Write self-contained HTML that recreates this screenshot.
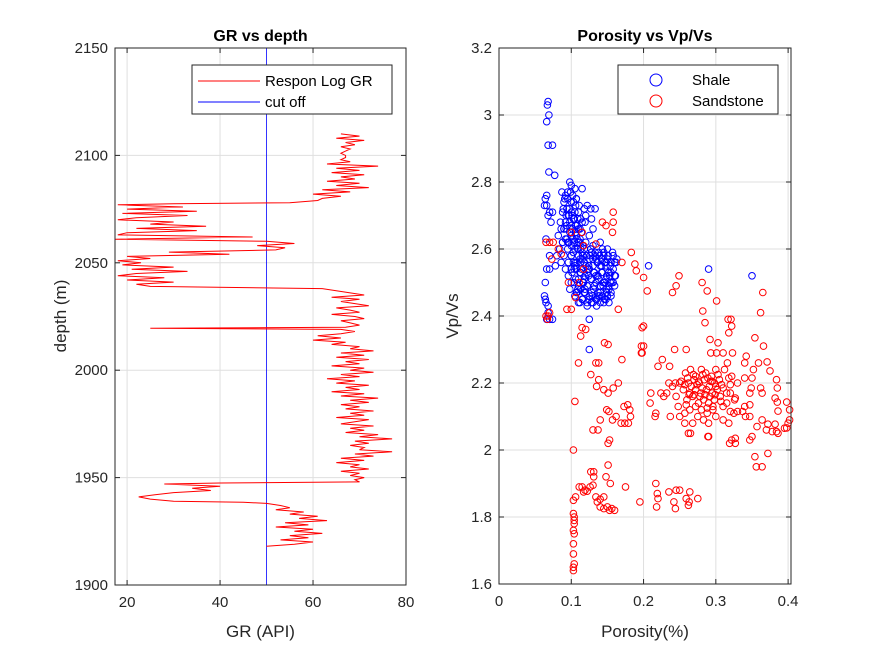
<!DOCTYPE html>
<html><head><meta charset="utf-8"><style>
html,body{margin:0;padding:0;background:#fff;}
svg{display:block;font-family:"Liberation Sans",Arial,sans-serif;}
</style></head><body>
<svg id="fig" width="875" height="656" viewBox="0 0 875 656" xmlns="http://www.w3.org/2000/svg">
<rect width="875" height="656" fill="#fff"/>
<g id="left"></g>
<g id="right"></g>
</svg>
<script>
// ---- GR vs depth data ----
const grDepth = [2110,2109,2108,2107,2106,2105,2104,2103,2102,2101,2100,2099,2098,2097,2096,2095,2094,2093,2092,2091,2090,2089,2088,2087,2086,2085,2084,2083,2082,2081,2080,2079,2078,2077.5,2077,2076,2075,2074,2073,2072,2071,2070,2069,2068,2067,2066,2065,2064,2063,2062,2061,2060,2059,2058,2057,2056,2055,2054,2053,2052,2051,2050,2049,2048,2047,2046,2045,2044,2043,2042,2041,2040,2039,2038,2037,2036,2035,2034,2033,2032,2031,2030,2029,2028,2027,2026,2025,2024,2023,2022,2021,2020,2019.5,2019,2018,2017,2016,2015,2014,2013,2012,2011,2010,2009,2008,2007,2006,2005,2004,2003,2002,2001,2000,1999,1998,1997,1996,1995,1994,1993,1992,1991,1990,1989,1988,1987,1986,1985,1984,1983,1982,1981,1980,1979,1978,1977,1976,1975,1974,1973,1972,1971,1970,1969,1968,1967,1966,1965,1964,1963,1962,1961,1960,1959,1958,1957,1956,1955,1954,1953,1952,1951,1950,1949,1948,1947.5,1947,1946,1945,1944,1943,1942,1941,1940,1939,1938.5,1938,1937,1936,1935,1934,1933,1932,1931,1930,1929,1928,1927,1926,1925,1924,1923,1922,1921,1920,1919,1918];
const grValue = [66,70,65,71,67,69,66,68,67,66,67,67,66,68,63,74,65,70,64,71,66,69,63,70,65,72,62,68,60,66,62,61,55,30,18,32,20,35,19,33,22,18,30,25,37,22,35,20,18,47,17.5,50,56,48,54,52,29,42,20,25,18,23,19,30,21,33,22,18,28,20,30,22,25,62,65,68,71,64,70,66,69,72,65,68,70,64,69,71,66,68,70,67,25,66,69,66,61,66,60,67,64,70,68,73,66,71,65,72,67,70,64,71,68,73,66,70,63,69,65,72,67,70,64,71,66,74,68,72,66,70,67,73,68,71,65,72,69,66,73,68,71,67,74,70,77,69,72,68,71,70,77,69,73,66,71,65,70,68,72,66,70,68,71,69,70,40,28,40,34,38,30,26,22.5,25,30,45,50,53,55,52,58,55,61,57,63,54,59,52,60,56,62,55,59,53,60,56,50];
const grCutoff = 50;
const grXTicks = [20,40,60,80];
const grYTicks = [1900,1950,2000,2050,2100,2150];

// ---- Porosity vs Vp/Vs data ----
const shalePhi = [0.068,0.067,0.069,0.066,0.068,0.074,0.069,0.077,0.066,0.064,0.063,0.066,0.07,0.074,0.068,0.072,0.065,0.07,0.066,0.07,0.064,0.063,0.064,0.065,0.068,0.068,0.066,0.07,0.074,
0.098,0.1,0.095,0.092,0.102,0.09,0.1,0.106,0.094,0.088,0.1,0.11,0.096,0.104,0.085,0.092,0.1,0.108,0.118,0.122,0.12,0.115,0.09,0.098,0.106,0.082,0.094,0.102,0.112,0.088,0.1,0.108,0.084,0.095,0.113,0.08,0.09,0.1,0.11,0.086,0.096,0.078,0.105,0.092,
0.11,0.12,0.13,0.105,0.118,0.128,0.138,0.145,0.1,0.115,0.125,0.135,0.15,0.155,0.108,0.12,0.13,0.14,0.148,0.158,0.1,0.112,0.122,0.132,0.142,0.152,0.096,0.106,0.118,0.128,0.138,0.148,0.156,0.1,0.11,0.122,0.132,0.144,0.152,0.098,0.108,0.118,0.128,0.14,0.15,0.105,0.115,0.125,0.135,0.148,0.112,0.122,0.135,0.145,0.16,0.162,0.158,0.155,0.125,0.13,0.128,0.127,0.133,
0.116,0.126,0.136,0.146,0.104,0.114,0.124,0.134,0.144,0.154,0.109,0.119,0.129,0.139,0.149,0.103,0.113,0.123,0.133,0.143,0.153,0.117,0.127,0.137,0.097,0.107,0.093,0.103,0.097,0.107,0.115,0.105,0.095,0.112,0.119,0.14,0.15,0.16,0.13,0.142,
0.087,0.091,0.095,0.099,0.103,0.107,0.111,0.089,0.093,0.097,0.101,0.105,0.109,0.113,0.086,0.09,0.094,0.098,0.102,0.106,0.11,0.114,0.088,0.092,0.096,0.1,0.104,0.108,0.112,0.116,
0.103,0.109,0.115,0.121,0.127,0.133,0.139,0.145,0.151,0.157,0.163,
0.106,0.112,0.118,0.124,0.13,0.136,0.142,0.148,0.154,0.16,
0.101,0.107,0.113,0.119,0.125,0.131,0.137,0.143,0.149,0.155,0.161,
0.104,0.11,0.116,0.122,0.128,0.134,0.14,0.146,0.152,0.158,
0.107,0.113,0.119,0.125,0.131,0.137,0.143,0.149,0.155,
0.11,0.116,0.122,0.128,0.134,0.14,0.146,0.152,
0.207,0.29,0.35,0.125,0.125];
const shaleVpVs = [3.04,3.03,3.00,2.98,2.91,2.91,2.83,2.82,2.76,2.75,2.73,2.73,2.71,2.71,2.70,2.68,2.63,2.58,2.54,2.54,2.50,2.46,2.45,2.44,2.43,2.41,2.39,2.39,2.39,
2.80,2.79,2.77,2.76,2.76,2.74,2.74,2.73,2.72,2.71,2.71,2.71,2.70,2.69,2.68,2.68,2.67,2.67,2.72,2.73,2.70,2.68,2.66,2.65,2.65,2.64,2.63,2.63,2.63,2.62,2.61,2.61,2.60,2.60,2.60,2.58,2.58,2.58,2.58,2.56,2.56,2.55,2.55,2.54,
2.62,2.62,2.61,2.60,2.60,2.59,2.59,2.58,2.58,2.57,2.57,2.57,2.57,2.56,2.56,2.55,2.55,2.55,2.55,2.54,2.54,2.53,2.53,2.53,2.53,2.53,2.52,2.51,2.51,2.51,2.51,2.51,2.50,2.50,2.49,2.49,2.49,2.49,2.48,2.48,2.47,2.47,2.47,2.47,2.46,2.46,2.45,2.45,2.45,2.45,2.44,2.43,2.43,2.44,2.52,2.56,2.58,2.47,2.64,2.66,2.69,2.72,2.72,
2.58,2.58,2.56,2.56,2.54,2.54,2.52,2.52,2.50,2.50,2.48,2.48,2.46,2.46,2.48,2.56,2.56,2.54,2.58,2.60,2.52,2.50,2.60,2.46,2.62,2.64,2.66,2.69,2.70,2.75,2.78,2.78,2.62,2.66,2.68,2.62,2.60,2.49,2.44,2.57,
2.77,2.75,2.75,2.77,2.74,2.75,2.73,2.72,2.70,2.72,2.70,2.71,2.69,2.69,2.66,2.66,2.67,2.68,2.66,2.67,2.66,2.65,2.62,2.63,2.62,2.64,2.62,2.63,2.62,2.61,
2.59,2.60,2.59,2.58,2.60,2.59,2.58,2.59,2.58,2.59,2.57,
2.56,2.57,2.56,2.55,2.57,2.56,2.55,2.56,2.55,2.56,
2.53,2.54,2.53,2.52,2.54,2.53,2.52,2.53,2.52,2.53,2.52,
2.50,2.51,2.50,2.49,2.51,2.50,2.49,2.50,2.49,2.50,
2.47,2.48,2.47,2.46,2.48,2.47,2.46,2.47,2.46,
2.44,2.45,2.44,2.44,2.45,2.44,2.45,2.44,
2.55,2.54,2.52,2.39,2.30];

const sandPhi = [0.065,0.07,0.075,0.068,0.065,0.07,0.067,
0.1,0.115,0.117,0.134,0.158,0.158,0.143,0.148,0.157,0.17,0.117,0.111,0.096,0.106,0.082,0.086,0.073,0.094,
0.183,0.188,0.19,0.2,0.205,0.249,0.245,0.24,0.281,0.288,0.301,0.282,0.285,0.317,0.321,0.322,0.318,0.365,0.362,0.354,0.366,
0.198,0.197,0.197,0.151,0.17,0.11,0.134,0.138,0.127,0.138,0.135,0.145,0.151,0.158,0.165,0.105,0.149,0.152,0.14,0.137,0.151,0.157,0.162,0.169,0.174,0.179,0.173,0.178,0.181,0.182,
0.22,0.226,0.236,0.243,0.259,0.21,0.224,0.228,0.209,0.217,0.216,0.237,0.257,0.257,0.262,0.289,
0.292,0.303,0.293,0.301,0.31,0.323,0.316,0.34,0.342,0.371,0.375,0.384,0.385,0.382,0.385,0.398,0.386,0.402,0.402,0.398,0.386,0.382,0.372,0.364,0.357,0.347,0.319,0.327,0.372,0.354,0.356,0.364,
0.34,0.35,0.352,0.359,0.362,0.364,0.347,0.349,0.347,0.34,0.341,0.347,0.337,0.33,0.325,0.32,0.327,0.315,0.31,0.318,0.322,0.32,
0.258,0.265,0.272,0.28,0.286,0.294,0.3,0.262,0.27,0.277,0.284,0.291,0.298,0.305,0.255,0.264,0.272,0.279,0.287,0.295,0.302,0.26,0.268,0.276,0.283,0.29,0.298,0.306,0.264,0.272,0.28,0.288,0.296,0.31,0.245,0.24,0.25,0.232,0.248,0.235,0.312,0.275,0.283,0.29,0.3,0.268,0.25,0.31,
0.261,0.269,0.276,0.282,0.289,0.295,0.303,0.257,0.266,0.274,0.281,0.293,0.3,0.308,0.263,0.27,0.278,0.285,0.292,0.299,0.307,0.252,0.259,0.288,0.296,0.315,0.32,0.326,0.33,0.244,
0.103,0.13,0.153,0.151,0.148,0.154,0.127,0.131,0.131,0.111,0.115,0.119,0.117,0.122,0.126,0.13,0.103,0.106,0.134,0.136,0.14,0.145,0.14,0.145,0.15,0.153,0.156,0.16,0.175,0.195,0.217,0.219,0.22,0.218,0.235,0.245,0.25,0.242,0.244,0.259,0.263,0.262,0.264,0.275,
0.103,0.104,0.104,0.103,0.104,0.103,0.103,0.104,0.103,0.103,0.104,
0.265,0.29,0.318,0.322,0.327,0.35,0.37,0.378,0.384,0.395,0.4,
0.115,0.12,0.113,0.146,0.2,0.2,0.198,0.165,0.1];
const sandVpVs = [2.62,2.62,2.62,2.40,2.40,2.41,2.39,
2.65,2.65,2.61,2.615,2.71,2.68,2.68,2.67,2.65,2.56,2.54,2.50,2.50,2.455,2.60,2.585,2.57,2.42,
2.59,2.555,2.535,2.515,2.475,2.52,2.49,2.47,2.50,2.475,2.445,2.415,2.38,2.39,2.39,2.37,2.35,2.47,2.41,2.335,2.31,
2.365,2.31,2.29,2.315,2.27,2.26,2.26,2.26,2.225,2.21,2.19,2.18,2.17,2.185,2.20,2.145,2.12,2.115,2.09,2.06,2.02,2.09,2.10,2.08,2.08,2.08,2.13,2.135,2.12,2.10,
2.25,2.27,2.25,2.30,2.30,2.17,2.17,2.16,2.14,2.11,2.10,2.10,2.11,2.08,2.05,2.04,
2.33,2.32,2.29,2.29,2.29,2.29,2.26,2.26,2.28,2.263,2.236,2.21,2.185,2.155,2.143,2.143,2.116,2.12,2.09,2.066,2.05,2.077,2.077,2.09,2.07,2.03,2.02,2.02,1.99,1.98,1.95,1.95,
2.215,2.215,2.24,2.26,2.185,2.17,2.17,2.185,2.135,2.13,2.10,2.10,2.115,2.115,2.11,2.115,2.155,2.17,2.185,2.215,2.22,2.195,
2.23,2.24,2.22,2.24,2.23,2.22,2.24,2.20,2.21,2.20,2.21,2.19,2.20,2.21,2.18,2.17,2.18,2.17,2.18,2.17,2.18,2.15,2.16,2.14,2.15,2.14,2.15,2.16,2.12,2.13,2.12,2.11,2.12,2.13,2.16,2.19,2.20,2.17,2.13,2.20,2.24,2.10,2.09,2.08,2.10,2.08,2.10,2.09,
2.215,2.225,2.205,2.225,2.215,2.205,2.225,2.195,2.19,2.195,2.185,2.205,2.19,2.195,2.165,2.165,2.16,2.165,2.16,2.165,2.145,2.205,2.135,2.125,2.13,2.14,2.17,2.15,2.2,2.2,
2.00,2.06,2.03,1.955,1.92,1.90,1.935,1.935,1.92,1.89,1.89,1.88,1.875,1.877,1.89,1.895,1.85,1.86,1.86,1.845,1.853,1.86,1.83,1.825,1.83,1.82,1.825,1.82,1.89,1.845,1.90,1.87,1.855,1.83,1.875,1.88,1.88,1.845,1.825,1.855,1.845,1.835,1.875,1.855,
1.81,1.79,1.78,1.76,1.75,1.72,1.69,1.66,1.65,1.64,1.80,
2.05,2.04,2.08,2.03,2.035,2.04,2.06,2.055,2.055,2.065,2.08,
2.365,2.36,2.34,2.32,2.37,2.31,2.29,2.42,2.42];
const phiTicks = [0,0.1,0.2,0.3,0.4];
const vpvsTicks = [1.6,1.8,2.0,2.2,2.4,2.6,2.8,3.0,3.2];

const NS='http://www.w3.org/2000/svg';
function mk(parent,tag,attrs,text){const e=document.createElementNS(NS,tag);for(const k in attrs)e.setAttribute(k,attrs[k]);if(text!==undefined)e.textContent=text;parent.appendChild(e);return e;}
const AX='#262626', GRID='#dfdfdf';

// ===== Left axes =====
const L={x0:115,x1:406,y0:48,y1:585,xmin:17.4,xmax:80,ymin:1900,ymax:2150};
const lx=v=>L.x0+(v-L.xmin)/(L.xmax-L.xmin)*(L.x1-L.x0);
const ly=v=>L.y1-(v-L.ymin)/(L.ymax-L.ymin)*(L.y1-L.y0);
const gl=document.getElementById('left');
grXTicks.forEach(t=>{const x=lx(t);
 const g=mk(gl,'line',{x1:x,x2:x,y1:L.y0,y2:L.y1,stroke:GRID,'stroke-width':1});
 
 mk(gl,'line',{x1:x,x2:x,y1:L.y1,y2:L.y1-5,stroke:AX});mk(gl,'line',{x1:x,x2:x,y1:L.y0,y2:L.y0+5,stroke:AX});
 const tl=mk(gl,'text',{x:x,y:L.y1+22,'text-anchor':'middle','font-size':15,fill:AX},t);
 });
grYTicks.forEach(t=>{const y=ly(t);
 const g=mk(gl,'line',{x1:L.x0,x2:L.x1,y1:y,y2:y,stroke:GRID,'stroke-width':1});
 
 mk(gl,'line',{x1:L.x0,x2:L.x0+5,y1:y,y2:y,stroke:AX});mk(gl,'line',{x1:L.x1,x2:L.x1-5,y1:y,y2:y,stroke:AX});
 const tl=mk(gl,'text',{x:L.x0-7,y:y+5,'text-anchor':'end','font-size':15,fill:AX},t);
 });
const cut=mk(gl,'line',{x1:lx(grCutoff),x2:lx(grCutoff),y1:L.y0,y2:L.y1,stroke:'#0000ff','stroke-width':0.8});

const pts=grDepth.map((d,i)=>lx(grValue[i]).toFixed(1)+','+ly(d).toFixed(1)).join(' ');
const grl=mk(gl,'polyline',{points:pts,fill:'none',stroke:'#ff0000','stroke-width':1});

mk(gl,'rect',{x:L.x0,y:L.y0,width:L.x1-L.x0,height:L.y1-L.y0,fill:'none',stroke:AX,'stroke-width':1});
let t=mk(gl,'text',{x:(L.x0+L.x1)/2,y:41,'text-anchor':'middle','font-size':16,'font-weight':'bold',fill:'#000'},'GR vs depth');

t=mk(gl,'text',{x:(L.x0+L.x1)/2,y:637,'text-anchor':'middle','font-size':17,fill:AX},'GR (API)');

t=mk(gl,'text',{x:0,y:0,'text-anchor':'middle','font-size':17,fill:AX,transform:'translate(66,316) rotate(-90)'},'depth (m)');

const lg=mk(gl,'g',{});

mk(lg,'rect',{x:192,y:65,width:200,height:49,fill:'#fff',stroke:AX,'stroke-width':1});
mk(lg,'line',{x1:198,x2:260,y1:81,y2:81,stroke:'#ff0000'});
mk(lg,'line',{x1:198,x2:260,y1:102,y2:102,stroke:'#0000ff'});
t=mk(lg,'text',{x:265,y:86,'font-size':15,fill:'#000'},'Respon Log GR');
t=mk(lg,'text',{x:265,y:107,'font-size':15,fill:'#000'},'cut off');

// ===== Right axes =====
const R={x0:499,x1:791,y0:48,y1:584,xmin:0,xmax:0.404,ymin:1.6,ymax:3.2};
const rx=v=>R.x0+(v-R.xmin)/(R.xmax-R.xmin)*(R.x1-R.x0);
const ry=v=>R.y1-(v-R.ymin)/(R.ymax-R.ymin)*(R.y1-R.y0);
const gr=document.getElementById('right');
phiTicks.forEach(v=>{const x=rx(v);
 const g=mk(gr,'line',{x1:x,x2:x,y1:R.y0,y2:R.y1,stroke:GRID});
 
 mk(gr,'line',{x1:x,x2:x,y1:R.y1,y2:R.y1-5,stroke:AX});mk(gr,'line',{x1:x,x2:x,y1:R.y0,y2:R.y0+5,stroke:AX});
 const tl=mk(gr,'text',{x:x,y:R.y1+22,'text-anchor':'middle','font-size':15,fill:AX},String(v));
 });
vpvsTicks.forEach(v=>{const y=ry(v);
 const g=mk(gr,'line',{x1:R.x0,x2:R.x1,y1:y,y2:y,stroke:GRID});
 
 mk(gr,'line',{x1:R.x0,x2:R.x0+5,y1:y,y2:y,stroke:AX});mk(gr,'line',{x1:R.x1,x2:R.x1-5,y1:y,y2:y,stroke:AX});
 const tl=mk(gr,'text',{x:R.x0-7,y:y+5,'text-anchor':'end','font-size':15,fill:AX},String(v));
 });
const sg=mk(gr,'g',{});
shalePhi.forEach((p,i)=>{const c=mk(sg,'circle',{cx:rx(p).toFixed(1),cy:ry(shaleVpVs[i]).toFixed(1),r:3.3,fill:'none',stroke:'#0000ff','stroke-width':1});
 });
const dg=mk(gr,'g',{});
sandPhi.forEach((p,i)=>{const c=mk(dg,'circle',{cx:rx(p).toFixed(1),cy:ry(sandVpVs[i]).toFixed(1),r:3.3,fill:'none',stroke:'#ff0000','stroke-width':1});
 });
mk(gr,'rect',{x:R.x0,y:R.y0,width:R.x1-R.x0,height:R.y1-R.y0,fill:'none',stroke:AX});
t=mk(gr,'text',{x:(R.x0+R.x1)/2,y:41,'text-anchor':'middle','font-size':16,'font-weight':'bold',fill:'#000'},'Porosity vs Vp/Vs');

t=mk(gr,'text',{x:(R.x0+R.x1)/2,y:637,'text-anchor':'middle','font-size':17,fill:AX},'Porosity(%)');

t=mk(gr,'text',{x:0,y:0,'text-anchor':'middle','font-size':17,fill:AX,transform:'translate(458,316) rotate(-90)'},'Vp/Vs');

const rg=mk(gr,'g',{});
mk(rg,'rect',{x:618,y:65,width:160,height:49,fill:'#fff',stroke:AX});
mk(rg,'circle',{cx:656,cy:80,r:6,fill:'none',stroke:'#0000ff'});
mk(rg,'circle',{cx:656,cy:101,r:6,fill:'none',stroke:'#ff0000'});
t=mk(rg,'text',{x:692,y:85,'font-size':15,fill:'#000'},'Shale');
t=mk(rg,'text',{x:692,y:106,'font-size':15,fill:'#000'},'Sandstone');
</script>
</body></html>
